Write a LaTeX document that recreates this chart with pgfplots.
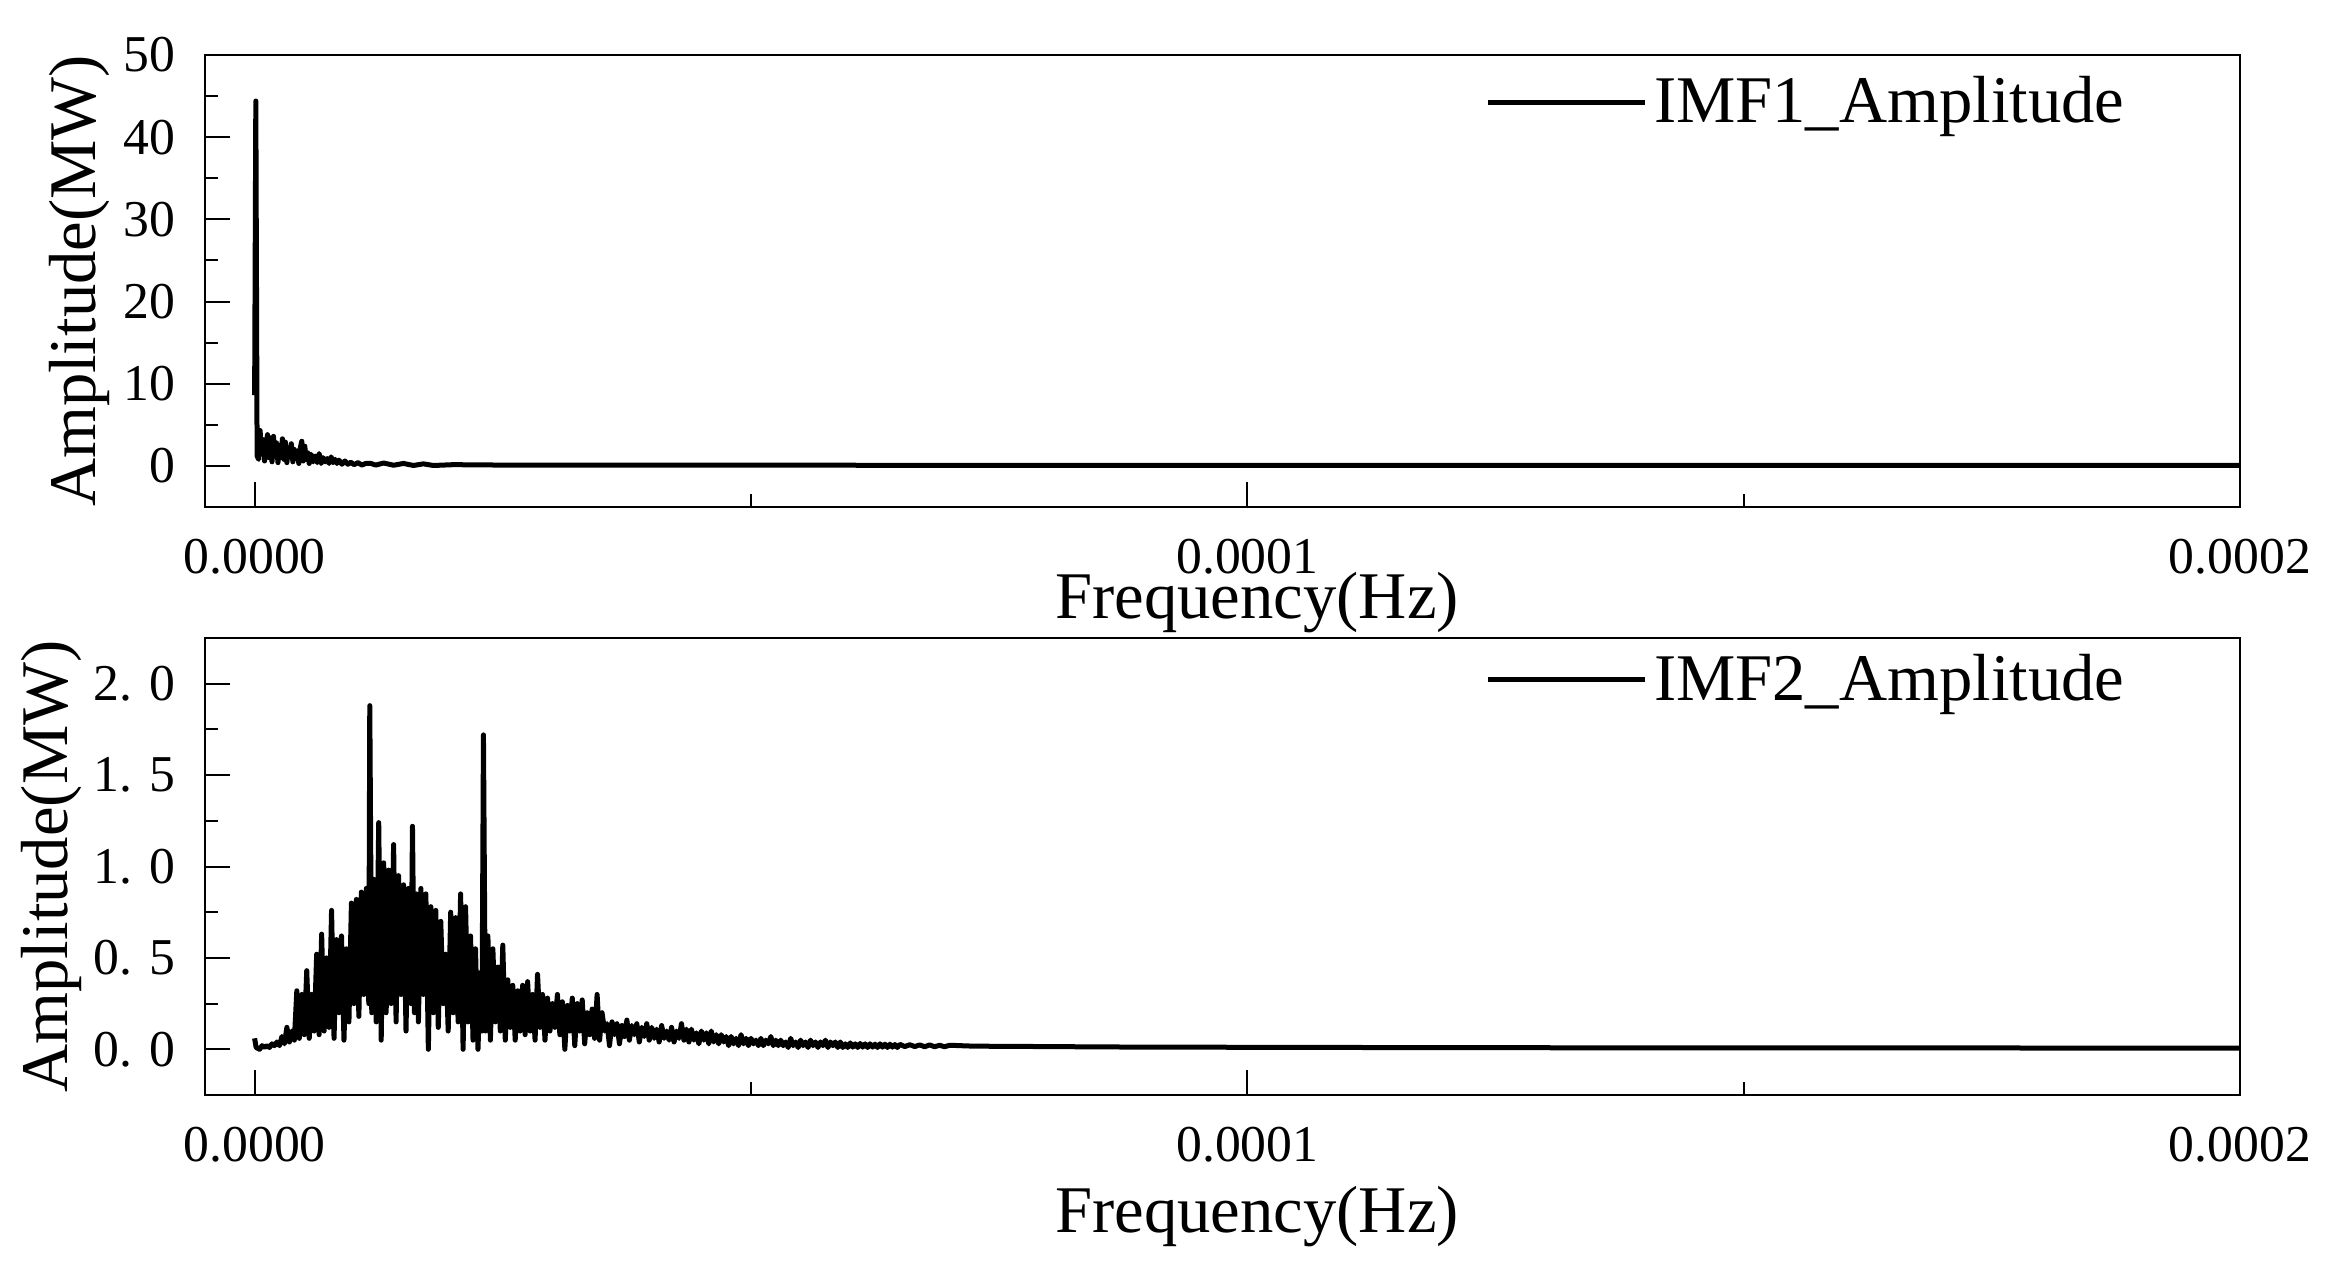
\documentclass[border=0pt]{standalone}
\usepackage{pgfplots}
\pgfplotsset{compat=1.18}
\usepackage{fontspec}
\setmainfont{Liberation Serif}

\newcommand{\tickfont}{\fontsize{15.5}{18}\selectfont}
\newcommand{\labfont}{\fontsize{20}{24}\selectfont}

\pgfplotsset{
  myaxis/.style={
    scale only axis,
    width=610.5pt,
    xmin=-5, xmax=200,
    axis line style={line width=0.6pt},
    tick style={line width=0.6pt, black},
    tick align=inside,
    xtick pos=bottom, ytick pos=left,
    major tick length=7.5pt,
    minor tick length=3.9pt,
    xtick={0,100,200},
    xticklabels={0.0000,0.0001,0.0002},
    minor xtick={50,150},
    xticklabel style={font=\tickfont, anchor=center, inner sep=0pt, yshift=-15pt},
    yticklabel style={font=\tickfont, anchor=east, inner sep=0pt, xshift=-8.7pt},
    label style={font=\labfont},
    xlabel={Frequency(Hz)},
    ylabel={Amplitude(MW)},
    legend style={draw=none, fill=none, inner sep=0pt, font=\labfont, anchor=west},
    legend image code/.code={\draw[line width=1.5pt] (0pt,0pt) -- (47pt,0pt);},
  },
  spec/.style={black, line width=1.5pt, line join=round, no marks},
}

\begin{document}
\begin{tikzpicture}
\path[use as bounding box] (0,0) rectangle (702.3pt,380.4pt);

\begin{axis}[myaxis,
  at={(61.5pt,228.3pt)}, anchor=south west,
  height=135.6pt,
  ymin=-5, ymax=50,
  ytick={0,10,20,30,40,50},
  yticklabels={0,10,20,30,40,50},
  minor ytick={5,15,25,35,45},
  xlabel style={at={(axis description cs:0.517,-0.2124)}, anchor=center},
  ylabel style={at={(axis description cs:-0.0617,0.5)}, anchor=center, rotate=0},
  legend style={at={(axis description cs:0.629,0.896)}},
]
\addplot[spec] coordinates {
(0,8.6) (0.12,44.4) (0.25,1.2) (0.4,0.8) (0.55,4.3) (0.7,1.5) (0.85,3.2) (1.0,0.6)
(1.15,2.6) (1.3,3.8) (1.45,1.0) (1.6,3.4) (1.75,0.5) (1.9,3.6) (2.05,1.2) (2.2,2.8)
(2.35,0.4) (2.5,2.5) (2.65,1.0) (2.8,3.3) (2.95,0.8) (3.1,2.9) (3.25,0.4) (3.4,2.2)
(3.55,1.1) (3.7,2.7) (3.85,0.5) (4.0,2.0) (4.15,0.9) (4.3,1.8) (4.45,0.3) (4.6,2.2)
(4.75,3.0) (4.9,0.6) (5.05,2.4) (5.2,0.8) (5.35,1.6) (5.5,0.3) (5.7,1.4) (5.9,0.5)
(6.1,1.2) (6.3,0.4) (6.5,1.5) (6.7,0.3) (6.9,1.0) (7.1,0.5) (7.3,0.9) (7.5,0.3)
(7.7,1.1) (7.9,0.4) (8.1,0.8) (8.3,0.3) (8.5,0.7) (8.8,0.2) (9.1,0.6) (9.4,0.2)
(9.7,0.45) (10,0.15) (10.4,0.4) (10.8,0.1) (11.2,0.3) (11.7,0.3) (12.2,0.1) (13,0.35)
(14,0.08) (15,0.3) (16,0.05) (17,0.25) (18,0.05) (20,0.15) (25,0.1) (30,0.1)
(40,0.08) (60,0.08) (100,0.06) (150,0.06) (200,0.05)
};
\addlegendentry{IMF1\_Amplitude}
\end{axis}

\begin{axis}[myaxis,
  at={(61.5pt,51.9pt)}, anchor=south west,
  height=137.1pt,
  ymin=-0.25, ymax=2.25,
  ytick={0,0.5,1,1.5,2},
  yticklabels={0. 0,0. 5,1. 0,1. 5,2. 0},
  minor ytick={0.25,0.75,1.25,1.75},
  xlabel style={at={(axis description cs:0.517,-0.267)}, anchor=center},
  ylabel style={at={(axis description cs:-0.0754,0.5)}, anchor=center, rotate=0},
  legend style={at={(axis description cs:0.629,0.909)}},
]
\addplot[spec] coordinates {
(0,0.06) (0.15,0.01) (0.5,0.00) (0.75,0.02) (1.0,0.01) (1.25,0.02) (1.5,0.01) (1.75,0.03)
(2.0,0.02) (2.25,0.04) (2.5,0.02) (2.75,0.07) (3.0,0.03) (3.25,0.12) (3.5,0.04) (3.75,0.1)
(4.0,0.05) (4.25,0.32) (4.5,0.06) (4.75,0.3) (5.0,0.08) (5.25,0.43) (5.5,0.06) (5.75,0.3)
(6.0,0.1) (6.25,0.52) (6.5,0.08) (6.75,0.63) (7.0,0.1) (7.25,0.5) (7.5,0.12) (7.75,0.76)
(8.0,0.06) (8.25,0.6) (8.5,0.2) (8.75,0.62) (9.0,0.05) (9.25,0.55) (9.5,0.15) (9.75,0.8)
(10.0,0.25) (10.25,0.82) (10.5,0.18) (10.75,0.86) (11.0,0.3) (11.25,0.88) (11.5,0.25) (11.6,1.88)
(11.8,0.2) (12.0,0.93) (12.25,0.15) (12.5,1.24) (12.75,0.05) (13.0,1.02) (13.25,0.2) (13.5,0.98)
(13.75,0.25) (14.0,1.12) (14.25,0.15) (14.5,0.95) (14.75,0.3) (15.0,0.9) (15.25,0.1) (15.5,0.88)
(15.75,0.25) (15.9,1.22) (16.1,0.2) (16.3,0.85) (16.5,0.15) (16.75,0.88) (17.0,0.3) (17.25,0.85)
(17.5,0.0) (17.75,0.78) (18.0,0.2) (18.25,0.76) (18.5,0.12) (18.75,0.7) (19.0,0.25) (19.25,0.52)
(19.5,0.1) (19.75,0.75) (20.0,0.2) (20.25,0.72) (20.5,0.15) (20.75,0.85) (21.0,0.0) (21.25,0.78)
(21.5,0.15) (21.75,0.62) (22.0,0.05) (22.25,0.55) (22.5,0.0) (22.75,0.42) (22.9,0.1) (23.05,1.72)
(23.25,0.1) (23.5,0.62) (23.75,0.05) (24.0,0.55) (24.25,0.15) (24.5,0.45) (24.75,0.1) (25.0,0.57)
(25.25,0.05) (25.5,0.38) (25.75,0.12) (26.0,0.35) (26.25,0.05) (26.5,0.32) (26.75,0.1) (27.0,0.35)
(27.25,0.08) (27.5,0.37) (27.75,0.1) (28.0,0.3) (28.25,0.05) (28.5,0.41) (28.75,0.12) (29.0,0.3)
(29.25,0.05) (29.5,0.28) (29.75,0.1) (30.0,0.25) (30.25,0.12) (30.5,0.3) (30.75,0.08) (31.0,0.26)
(31.25,0.0) (31.5,0.24) (31.75,0.1) (32.0,0.28) (32.25,0.02) (32.5,0.25) (32.75,0.1) (33.0,0.27)
(33.25,0.03) (33.5,0.2) (33.75,0.08) (34.0,0.22) (34.25,0.06) (34.5,0.3) (34.75,0.05) (35.0,0.2)
(35.25,0.1) (35.5,0.14) (35.75,0.02) (36.0,0.15) (36.25,0.08) (36.5,0.14) (36.75,0.03) (37.0,0.13)
(37.25,0.07) (37.5,0.16) (37.75,0.05) (38.0,0.13) (38.25,0.08) (38.5,0.14) (38.75,0.04) (39.0,0.12)
(39.25,0.07) (39.5,0.14) (39.75,0.05) (40.0,0.12) (40.25,0.06) (40.5,0.11) (40.75,0.04) (41.0,0.13)
(41.25,0.06) (41.5,0.1) (41.75,0.05) (42.0,0.12) (42.25,0.04) (42.5,0.1) (42.75,0.06) (43.0,0.14)
(43.25,0.05) (43.5,0.11) (43.75,0.04) (44.0,0.11) (44.25,0.05) (44.5,0.09) (44.75,0.03) (45.0,0.1)
(45.25,0.05) (45.5,0.09) (45.75,0.03) (46.0,0.1) (46.25,0.04) (46.5,0.08) (46.75,0.03) (47.0,0.08)
(47.25,0.04) (47.5,0.07) (47.75,0.02) (48.0,0.07) (48.25,0.03) (48.5,0.06) (48.75,0.02) (49.0,0.08)
(49.25,0.03) (49.5,0.06) (49.75,0.02) (50.0,0.06) (50.25,0.03) (50.5,0.05) (50.75,0.02) (51.0,0.06)
(51.25,0.02) (51.5,0.05) (51.75,0.03) (52.0,0.07) (52.25,0.02) (52.5,0.05) (52.75,0.02) (53.0,0.05)
(53.25,0.02) (53.5,0.04) (53.75,0.01) (54.0,0.06) (54.25,0.02) (54.5,0.04) (54.75,0.01) (55.0,0.05)
(55.25,0.02) (55.5,0.04) (55.75,0.01) (56.0,0.05) (56.25,0.02) (56.5,0.04) (56.75,0.01) (57.0,0.04)
(57.25,0.02) (57.5,0.05) (57.75,0.01) (58.0,0.04) (58.25,0.02) (58.5,0.04) (58.75,0.01) (59.0,0.04)
(59.25,0.01) (59.5,0.03) (59.75,0.01) (60.0,0.035) (60.25,0.012) (60.5,0.03) (60.75,0.01) (61,0.032)
(61.25,0.012) (61.5,0.03) (61.75,0.01) (62,0.03) (62.25,0.012) (62.5,0.028) (62.75,0.01) (63,0.03)
(63.25,0.012) (63.5,0.028) (63.75,0.01) (64,0.028) (64.25,0.012) (64.5,0.026) (64.75,0.01) (65,0.027)
(65.5,0.015) (66,0.025) (66.5,0.015) (67,0.024) (67.5,0.014) (68,0.024) (68.5,0.014) (69,0.022)
(69.5,0.014) (70,0.022) (72,0.018) (75,0.016) (80,0.015) (85,0.013) (90,0.012) (100,0.011)
(110,0.01) (120,0.009) (140,0.008) (160,0.008) (180,0.007) (200,0.007)
};
\addlegendentry{IMF2\_Amplitude}
\end{axis}
\end{tikzpicture}
\end{document}
